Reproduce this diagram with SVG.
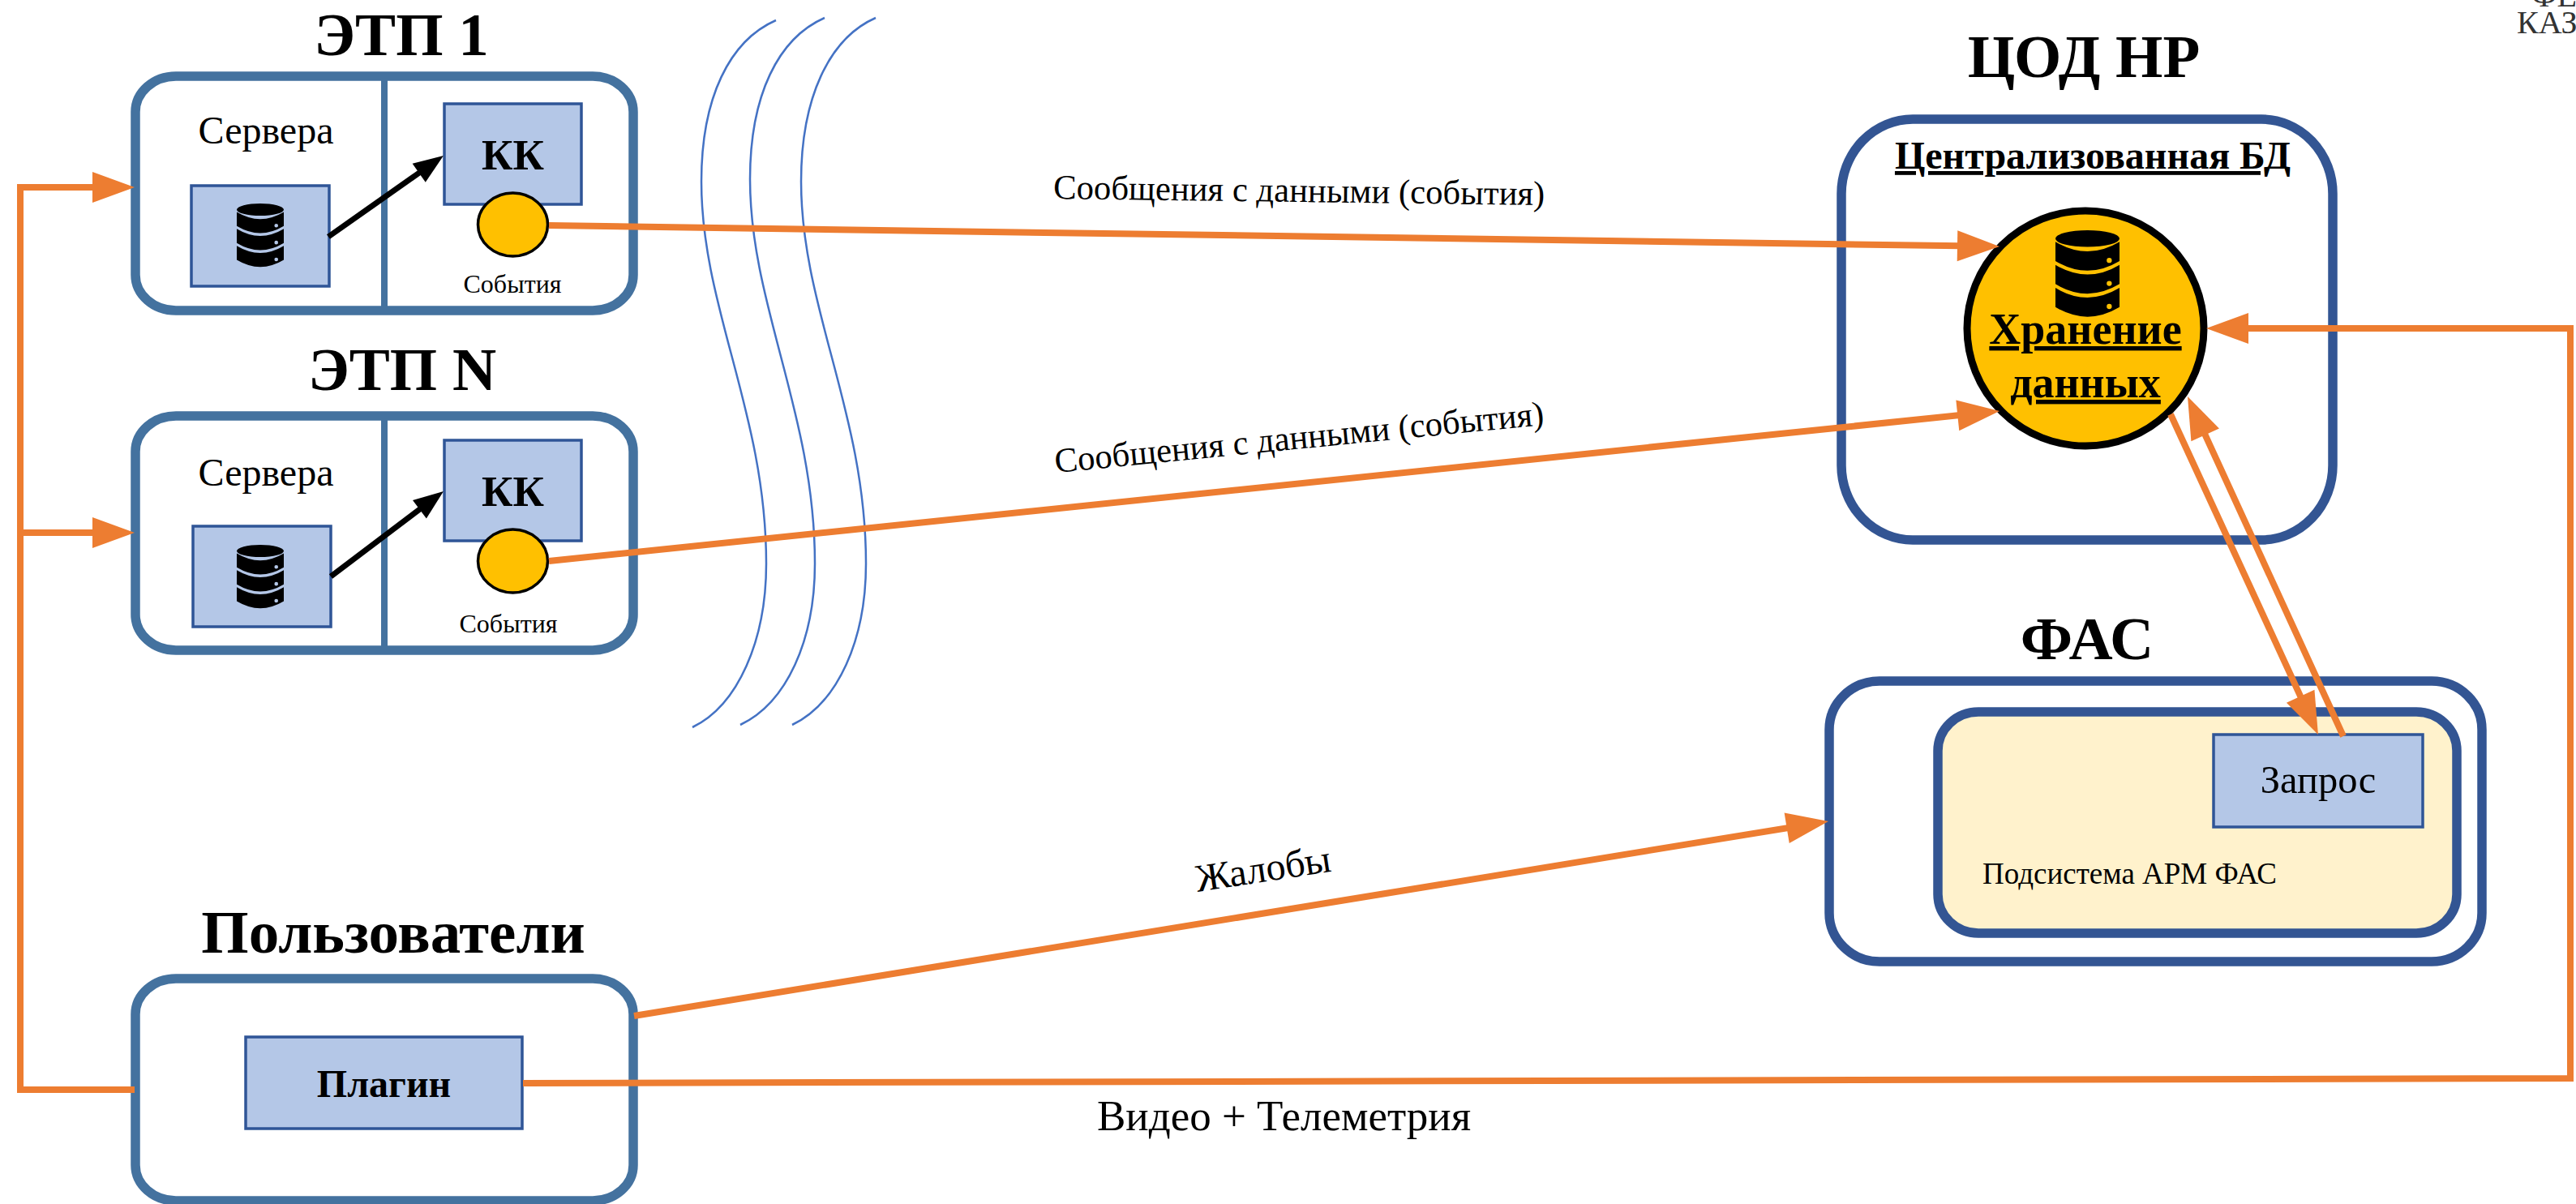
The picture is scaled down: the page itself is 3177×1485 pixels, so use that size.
<svg xmlns="http://www.w3.org/2000/svg" xmlns:xlink="http://www.w3.org/1999/xlink" width="3177" height="1485" viewBox="0 0 3177 1485">
<style>
text{font-family:"Liberation Serif","Times New Roman",serif;fill:#000}
.t{font-weight:700;font-size:75px;text-anchor:middle}
.etp{fill:#fff;stroke:#44729f;stroke-width:11.5}
.div{stroke:#44729f;stroke-width:8}
.cod{fill:#fff;stroke:#335593;stroke-width:11.5}
.box{fill:#b4c7e7;stroke:#2f5597;stroke-width:3.5}
.dot{fill:#ffc000;stroke:#000;stroke-width:3.5}
.srv{font-size:48px;text-anchor:middle}
.ev{font-size:32px;text-anchor:middle}
.kk{font-size:53px;font-weight:700;text-anchor:middle}
.lbl{font-size:42.700px}
.wave{fill:none;stroke:#4472c4;stroke-width:2.5}
.or{fill:none;stroke:#ed7d31;stroke-width:8}
.blk{fill:none;stroke:#000;stroke-width:7}
.hor{marker-end:url(#ah)}
.hbk{marker-end:url(#ak)}
</style>
<defs>
<marker id="ah" markerUnits="userSpaceOnUse" markerWidth="52" markerHeight="38" refX="22" refY="19" orient="auto" overflow="visible"><path d="M0,0 L52,19 L0,38 Z" fill="#ed7d31"/></marker>
<marker id="ak" markerUnits="userSpaceOnUse" markerWidth="37" markerHeight="28" refX="17" refY="14" orient="auto" overflow="visible"><path d="M0,0 L37,14 L0,28 Z" fill="#000"/></marker>
<path id="db" fill="#000" fill-rule="evenodd" d="M0,13 A50,13 0 1 1 100,13 A50,13 0 1 1 0,13 Z M0,18 Q50,48 100,18 V48 Q50,78 0,48 Z M80,47 a4,4 0 1 0 8,0 a4,4 0 1 0 -8,0 Z M0,54 Q50,84 100,54 V84 Q50,114 0,84 Z M80,83 a4,4 0 1 0 8,0 a4,4 0 1 0 -8,0 Z M0,90 Q50,120 100,90 V120 Q50,150 0,120 Z M80,119 a4,4 0 1 0 8,0 a4,4 0 1 0 -8,0 Z"/>
</defs>
<rect width="3177" height="1485" fill="#fff"/>

<g id="stamp">
<text x="3122" y="8" font-size="40" style="fill:#333">ФЕД</text>
<text x="3104" y="41" font-size="40" style="fill:#333">КАЗН</text>
</g>

<g id="etp1">
<text class="t" x="495" y="68">ЭТП 1</text>
<rect class="etp" x="167" y="94" width="614" height="289" rx="50" ry="44"/>
<line class="div" x1="474" y1="94" x2="474" y2="383"/>
<text class="srv" x="328" y="177">Сервера</text>
<rect class="box" x="236" y="229" width="170" height="124"/>
<use xlink:href="#db" href="#db" transform="translate(292,251) scale(.58)"/>
<rect class="box" x="548" y="128" width="169" height="124"/>
<text class="kk" x="632.5" y="209">КК</text>
<ellipse class="dot" cx="632.5" cy="277" rx="43" ry="39"/>
<text class="ev" x="632" y="361">События</text>
</g>

<g id="etpN">
<text class="t" x="496" y="481">ЭТП N</text>
<rect class="etp" x="167" y="513" width="614" height="289" rx="50" ry="44"/>
<line class="div" x1="474" y1="513" x2="474" y2="802"/>
<text class="srv" x="328" y="599">Сервера</text>
<rect class="box" x="238" y="649" width="170" height="124"/>
<use xlink:href="#db" href="#db" transform="translate(292,672) scale(.58)"/>
<rect class="box" x="548" y="543" width="169" height="124"/>
<text class="kk" x="632.5" y="624">КК</text>
<ellipse class="dot" cx="632.5" cy="692" rx="43" ry="39"/>
<text class="ev" x="627" y="780">События</text>
</g>

<g id="users">
<text class="t" x="485" y="1175">Пользователи</text>
<rect class="etp" x="167" y="1207" width="614" height="274" rx="50" ry="44"/>
<rect class="box" x="303" y="1279" width="341" height="113"/>
<text x="473.500" y="1353" font-size="48" font-weight="700" text-anchor="middle">Плагин</text>
</g>

<g id="waves">
<path class="wave" d="M957,25 C900,50 865,120 865,224 C865,380 945,510 945,695 C945,790 910,870 854,897"/>
<path class="wave" d="M1017,22 C960,47 925,117 925,221 C925,377 1005,510 1005,695 C1005,790 970,867 913,894"/>
<path class="wave" d="M1080,22 C1023,47 988,120 988,224 C988,380 1068,510 1068,695 C1068,790 1033,867 977,894"/>
</g>

<g id="cod">
<text class="t" x="2570" y="95">ЦОД НР</text>
<rect class="cod" x="2271" y="147" width="606" height="519" rx="88" ry="92"/>
<text x="2581" y="208" font-size="48" font-weight="700" text-anchor="middle" text-decoration="underline">Централизованная БД</text>
<ellipse cx="2572" cy="405" rx="146" ry="145" fill="#ffc000" stroke="#000" stroke-width="9"/>
<use xlink:href="#db" href="#db" transform="translate(2535,284) scale(.79)"/>
<text x="2572" y="424" font-size="54" font-weight="700" text-anchor="middle" text-decoration="underline">Хранение</text>
<text x="2572" y="490" font-size="54" font-weight="700" text-anchor="middle" text-decoration="underline">данных</text>
</g>

<g id="fas">
<text class="t" x="2574" y="813">ФАС</text>
<rect class="cod" x="2256" y="840" width="805" height="346" rx="62" ry="60"/>
<rect class="cod" x="2390" y="878" width="640" height="273" rx="50" ry="48" style="fill:#fff2cc"/>
<rect class="box" x="2730" y="906" width="258" height="114"/>
<text x="2859" y="978" font-size="48.500" text-anchor="middle">Запрос</text>
<text x="2445" y="1090" font-size="37">Подсистема АРМ ФАС</text>
</g>

<g id="connectors">
<path class="blk hbk" d="M405,292 L530.600,203.500"/>
<path class="blk hbk" d="M408,711 L531,618"/>
<path class="or hor" d="M166,1344 L25,1344 L25,231 L136,231"/>
<path class="or hor" d="M25,657 L136,657"/>
<path class="or hor" d="M677,278 L2436,303.600"/>
<path class="or hor" d="M677,692 L2436.200,510.100"/>
<path class="or hor" d="M782,1253 L2225.400,1017.800"/>
<path class="or hor" d="M645,1336 L3170,1330 L3170,405 L2751,405"/>
<path class="or hor" d="M2677,511 L2846.400,878.800"/>
<path class="or hor" d="M2890,908 L2710.500,516.300"/>
</g>

<g id="labels">
<text class="lbl" x="1299" y="245" transform="rotate(0.76 1299 245)">Сообщения с данными (события)</text>
<text class="lbl" x="1302" y="583" transform="rotate(-5.6 1302 583)">Сообщения с данными (события)</text>
<text x="1477" y="1100" font-size="48" transform="rotate(-8.7 1477 1100)">Жалобы</text>
<text x="1353" y="1394" font-size="53">Видео + Телеметрия</text>
</g>
</svg>
